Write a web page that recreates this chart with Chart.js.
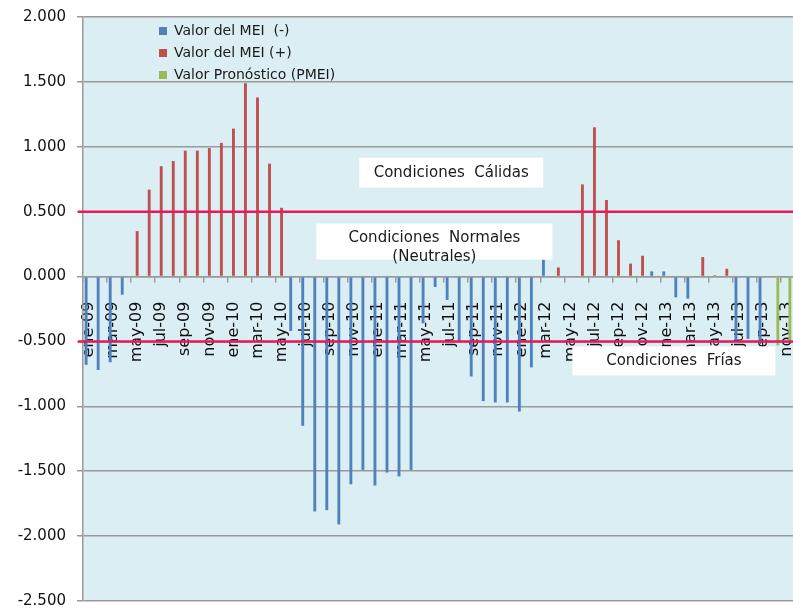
<!DOCTYPE html>
<html lang="es">
<head>
<meta charset="utf-8">
<title>MEI</title>
<script src="https://cdn.jsdelivr.net/npm/chart.js@4.4.0/dist/chart.umd.min.js"></script>
<style>
    html, body { margin: 0; padding: 0; background: #fff; overflow: hidden; }
    #caja { position: relative; width: 793px; height: 610px; }
</style>
</head>
<body>
<div id="caja"><canvas id="graficoMei"></canvas></div>
<script>
// meses, ene-09 .. nov-13
const meses = [
    "ene-09","feb-09","mar-09","abr-09","may-09","jun-09","jul-09","ago-09","sep-09","oct-09","nov-09","dic-09",
    "ene-10","feb-10","mar-10","abr-10","may-10","jun-10","jul-10","ago-10","sep-10","oct-10","nov-10","dic-10",
    "ene-11","feb-11","mar-11","abr-11","may-11","jun-11","jul-11","ago-11","sep-11","oct-11","nov-11","dic-11",
    "ene-12","feb-12","mar-12","abr-12","may-12","jun-12","jul-12","ago-12","sep-12","oct-12","nov-12","dic-12",
    "ene-13","feb-13","mar-13","abr-13","may-13","jun-13","jul-13","ago-13","sep-13","oct-13","nov-13"
];

// Valor del MEI (-)
const meiNegativo = [
    -0.68, -0.72, -0.66, -0.14, null, null, null, null, null, null, null, null,
    null, null, null, null, null, -0.42, -1.15, -1.81, -1.80, -1.91, -1.60, -1.49,
    -1.61, -1.51, -1.54, -1.49, -0.36, -0.08, -0.18, -0.50, -0.77, -0.96, -0.97, -0.97,
    -1.04, -0.70, 0.13, null, null, null, null, null, null, null, null, 0.04,
    0.04, -0.16, -0.17, null, null, null, -0.49, -0.48, -0.52, null, null
];

// Valor del MEI (+)
const meiPositivo = [
    null, null, null, null, 0.35, 0.67, 0.85, 0.89, 0.97, 0.97, 0.99, 1.03,
    1.14, 1.49, 1.38, 0.87, 0.53, null, null, null, null, null, null, null,
    null, null, null, null, null, null, null, null, null, null, null, null,
    null, null, null, 0.07, null, 0.71, 1.15, 0.59, 0.28, 0.10, 0.16, null,
    null, null, null, 0.15, 0.01, 0.06, null, null, null, null, null
];

// Valor Pronóstico (PMEI)
const pronostico = [
    null, null, null, null, null, null, null, null, null, null, null, null,
    null, null, null, null, null, null, null, null, null, null, null, null,
    null, null, null, null, null, null, null, null, null, null, null, null,
    null, null, null, null, null, null, null, null, null, null, null, null,
    null, null, null, null, null, null, null, null, null, -0.53, -0.50
];

// limites de condiciones normales
const umbrales = [0.5, -0.5];

const fuente = "'DejaVu Sans', Verdana, sans-serif";

//Fondo del area de trazado
const fondoArea = {
    id: "fondoArea",
    beforeDraw(chart) {
        const { ctx, chartArea } = chart;
        ctx.save();
        ctx.fillStyle = "#DBEEF4";
        ctx.fillRect(chartArea.left, chartArea.top, chartArea.right - chartArea.left, chartArea.bottom - chartArea.top);
        ctx.restore();
    }
};

//Lineas rosadas en +0.5 y -0.5
const lineasUmbral = {
    id: "lineasUmbral",
    afterDatasetsDraw(chart) {
        const { ctx, chartArea, scales } = chart;
        umbrales.forEach(v => {
            const py = scales.y.getPixelForValue(v);
            ctx.save();
            ctx.strokeStyle = "#E8185C";
            ctx.lineWidth = 2.5;
            ctx.beginPath();
            ctx.moveTo(chartArea.left - 5, py);
            ctx.lineTo(chartArea.right, py);
            ctx.stroke();
            ctx.restore();
        });
    }
};

//Cuadros de texto (centro en indice de categoria / valor)
const notas = [
    { lineas: ["Condiciones  Cálidas"], cat: 30.1, valor: 0.80, ancho: 184, alto: 30 },
    { lineas: ["Condiciones  Normales", "(Neutrales)"], cat: 28.7, valor: 0.27, ancho: 236, alto: 36 },
    { lineas: ["Condiciones  Frías"], cat: 48.6, valor: -0.65, ancho: 203, alto: 29 }
];

const cuadrosTexto = {
    id: "cuadrosTexto",
    afterDraw(chart) {
        const { ctx, scales } = chart;
        notas.forEach(n => {
            const cx = scales.x.getPixelForValue(n.cat);
            const cy = scales.y.getPixelForValue(n.valor);
            const top = cy - n.alto / 2;
            ctx.save();
            ctx.fillStyle = "#ffffff";
            ctx.fillRect(cx - n.ancho / 2, top, n.ancho, n.alto);
            ctx.fillStyle = "#1a1a1a";
            ctx.font = "15px " + fuente;
            ctx.textAlign = "center";
            ctx.textBaseline = "middle";
            n.lineas.forEach((t, i) => ctx.fillText(t, cx, top + 15 + i * 19));
            ctx.restore();
        });
    }
};

//Mover la leyenda dentro del area (arriba a la izquierda)
const moverLeyenda = {
    id: "moverLeyenda",
    afterLayout(chart) {
        const lg = chart.legend;
        if (lg) {
            lg.left += 68;
            lg.right += 68;
            lg.top += 16;
            lg.bottom += 16;
        }
    }
};

document.addEventListener("DOMContentLoaded", () => {
    const lienzo = document.getElementById("graficoMei");

    new Chart(lienzo, {
        type: "bar",
        data: {
            labels: meses,
            datasets: [
                { label: "Valor del MEI  (-)", data: meiNegativo, backgroundColor: "#4F81BD", borderWidth: 0 },
                { label: "Valor del MEI (+)", data: meiPositivo, backgroundColor: "#C0504D", borderWidth: 0 },
                { label: "Valor Pronóstico (PMEI)", data: pronostico, backgroundColor: "#9BBB59", borderWidth: 0 }
            ]
        },
        options: {
            responsive: true,
            maintainAspectRatio: false,
            animation: false,
            datasets: {
                bar: { categoryPercentage: 0.72, barPercentage: 1 }
            },
            layout: { padding: { left: 0, right: 0, top: 17, bottom: 9 } },
            plugins: {
                tooltip: { enabled: false },
                legend: {
                    position: "chartArea",
                    align: "start",
                    labels: {
                        boxWidth: 8,
                        boxHeight: 8,
                        padding: 8,
                        color: "#1a1a1a",
                        font: { family: fuente, size: 14 }
                    }
                }
            },
            scales: {
                x: {
                    position: { y: 0 },
                    z: 1,
                    grid: {
                        offset: true,
                        drawOnChartArea: false,
                        drawTicks: true,
                        tickLength: 5,
                        lineWidth: 1.5,
                        color: ctx => (ctx.index % 2 === 0 ? "#9a9a9a" : "rgba(0,0,0,0)")
                    },
                    border: { display: true, color: "#9a9a9a", width: 1.5 },
                    ticks: {
                        autoSkip: false,
                        minRotation: 90,
                        maxRotation: 90,
                        padding: 20,
                        color: "#111",
                        font: { family: fuente, size: 16 },
                        callback: (v, i) => (i % 2 === 0 ? meses[i] : "")
                    },
                    afterFit: s => { s.paddingLeft = 0; s.paddingRight = 0; }
                },
                y: {
                    min: -2.5,
                    max: 2,
                    grid: { color: "#9a9a9a", lineWidth: 1.5, tickLength: 6 },
                    border: { color: "#9a9a9a", width: 1.5 },
                    ticks: {
                        stepSize: 0.5,
                        padding: 11,
                        color: "#111",
                        font: { family: fuente, size: 15 },
                        callback: v => Number(v).toFixed(3)
                    },
                    afterFit: s => { s.width = 83; s.paddingTop = 0; s.paddingBottom = 0; }
                }
            }
        },
        plugins: [fondoArea, lineasUmbral, cuadrosTexto, moverLeyenda]
    });
});
</script>
</body>
</html>
